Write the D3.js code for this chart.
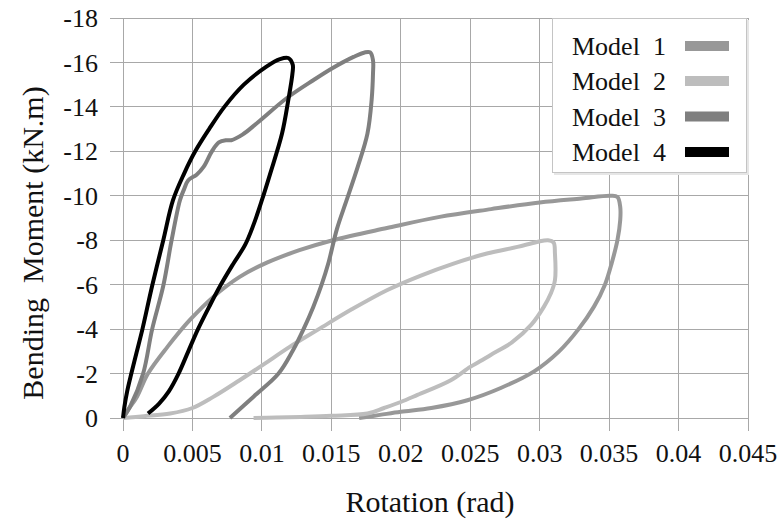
<!DOCTYPE html>
<html><head><meta charset="utf-8"><script src="https://cdn.jsdelivr.net/npm/d3@7/dist/d3.min.js"></script></head>
<body style="margin:0">
<svg id="chart" width="783" height="526"></svg>
<script>
// ---- Data ----
const xTicks = [0, 0.005, 0.01, 0.015, 0.02, 0.025, 0.03, 0.035, 0.04, 0.045];
const xTickLabels = ["0", "0.005", "0.01", "0.015", "0.02", "0.025", "0.03", "0.035", "0.04", "0.045"];
const yTicks = [0, -2, -4, -6, -8, -10, -12, -14, -16, -18];
const yTickLabels = ["0", "-2", "-4", "-6", "-8", "-10", "-12", "-14", "-16", "-18"];
const seriesNames = ["Model\u00a0\u00a01", "Model\u00a0\u00a02", "Model\u00a0\u00a03", "Model\u00a0\u00a04"];

const model1Rot = [0, 0.0004, 0.001, 0.0018, 0.0032, 0.0048, 0.0065, 0.0084, 0.0104, 0.0127, 0.0151, 0.019, 0.0228, 0.0265, 0.030, 0.0330, 0.0351, 0.0356, 0.0358, 0.0358, 0.0356, 0.0352, 0.0347, 0.0339, 0.0328, 0.0314, 0.0296, 0.0272, 0.0248, 0.0222, 0.0200, 0.0185, 0.0170];
const model1Mom = [0, -0.4, -0.95, -2, -3.2, -4.4, -5.45, -6.35, -7.0, -7.55, -8.0, -8.55, -9.05, -9.4, -9.7, -9.88, -10.0, -9.95, -9.5, -8.9, -8.0, -7.0, -6.0, -5.0, -4.0, -3.0, -2.1, -1.35, -0.8, -0.45, -0.28, -0.14, 0];

const model2Rot = [0, 0.0015, 0.0034, 0.005, 0.0065, 0.0084, 0.0101, 0.0120, 0.0141, 0.0165, 0.019, 0.0214, 0.0238, 0.0262, 0.0284, 0.0298, 0.0306, 0.0310, 0.0311, 0.0311, 0.0308, 0.0303, 0.0294, 0.0280, 0.0265, 0.0257, 0.0250, 0.0236, 0.0212, 0.0200, 0.0188, 0.0176, 0.0150, 0.0128, 0.0110, 0.0094];
const model2Mom = [0, -0.08, -0.2, -0.45, -0.95, -1.7, -2.4, -3.2, -4.0, -4.9, -5.75, -6.4, -6.95, -7.4, -7.7, -7.92, -8.0, -7.9, -7.4, -6.2, -5.6, -5.0, -4.2, -3.4, -2.85, -2.55, -2.3, -1.7, -1.04, -0.72, -0.45, -0.2, -0.1, -0.05, -0.02, 0];

const model3Rot = [0, 0.0005, 0.00145, 0.0021, 0.0029, 0.0035, 0.0041, 0.0044, 0.0047, 0.0053, 0.0058, 0.0064, 0.0069, 0.0074, 0.0078, 0.0086, 0.0097, 0.0118, 0.0137, 0.0151, 0.0166, 0.0174, 0.0178, 0.0180, 0.0180, 0.0179, 0.0176, 0.0169, 0.0161, 0.0154, 0.0148, 0.0143, 0.0137, 0.0130, 0.0122, 0.0112, 0.0094, 0.0077];
const model3Mom = [0, -0.5, -2, -4, -5.95, -8, -9.8, -10.3, -10.7, -10.95, -11.3, -12.0, -12.4, -12.5, -12.5, -12.75, -13.3, -14.4, -15.2, -15.75, -16.25, -16.45, -16.45, -16.1, -15.5, -14.3, -12.8, -11.3, -9.8, -8.5, -7.0, -6.0, -5.0, -4.0, -3.0, -2.0, -0.96, 0];

const model4Rot = [0, 0.0001, 0.0003, 0.0006, 0.001, 0.0014, 0.0021, 0.0029, 0.0036, 0.0044, 0.0052, 0.0062, 0.0073, 0.0087, 0.0103, 0.0113, 0.0119, 0.01222, 0.0122, 0.0119, 0.01145, 0.0106, 0.0100, 0.0094, 0.0088, 0.0079, 0.0070, 0.0062, 0.0054, 0.0047, 0.0040, 0.0033, 0.0026, 0.0018];
const model4Mom = [0, -0.5, -1.2, -2, -3, -4, -5.95, -8, -9.8, -11, -12, -13, -14, -15, -15.8, -16.15, -16.2, -15.9, -15.5, -14.3, -12.8, -11.0, -9.8, -8.7, -7.8, -6.9, -5.95, -5.0, -4.0, -3.0, -2.0, -1.2, -0.65, -0.2];

const colors = ["#989898", "#bdbdbd", "#7f7f7f", "#000000"];

// ---- Chart ----
const svg = d3.select("#chart");
const x = d3.scaleLinear().domain([0, 0.045]).range([123, 748]);
const y = d3.scaleLinear().domain([0, -18]).range([418, 18]);
const gridColor = "#a8a8a8";
function serif(sel) { return sel.attr("font-family", "Tinos").style("font-family", "Tinos"); }

// gridlines
svg.append("g").selectAll("line").data(yTicks).join("line")
  .attr("x1", x(0) - 13).attr("x2", x(0.045))
  .attr("y1", d => y(d)).attr("y2", d => y(d))
  .attr("stroke", gridColor).attr("stroke-width", 1).attr("shape-rendering", "crispEdges");
svg.append("g").selectAll("line").data(xTicks).join("line")
  .attr("x1", d => x(d)).attr("x2", d => x(d))
  .attr("y1", y(-18)).attr("y2", y(0) + 13)
  .attr("stroke", gridColor).attr("stroke-width", 1).attr("shape-rendering", "crispEdges");

// tick labels
svg.append("g").selectAll("text").data(xTicks).join("text")
  .attr("x", d => x(d)).attr("y", 462)
  .attr("text-anchor", "middle").attr("font-size", 26).attr("fill", "#111")
  .call(serif).text((d, i) => xTickLabels[i]);
svg.append("g").selectAll("text").data(yTicks).join("text")
  .attr("x", 98).attr("y", d => y(d)).attr("dy", "0.35em")
  .attr("text-anchor", "end").attr("font-size", 26).attr("fill", "#111")
  .call(serif).text((d, i) => yTickLabels[i]);

// axis titles
svg.append("text").attr("x", 430).attr("y", 512).attr("text-anchor", "middle")
  .attr("font-size", 30).attr("fill", "#111").call(serif).text("Rotation (rad)");
svg.append("text").attr("transform", "translate(43,243) rotate(-90)")
  .attr("text-anchor", "middle").attr("font-size", 30).attr("fill", "#111")
  .call(serif).text("Bending\u00a0\u00a0Moment (kN.m)");

// series
const series = [
  { rot: model1Rot, mom: model1Mom },
  { rot: model2Rot, mom: model2Mom },
  { rot: model3Rot, mom: model3Mom },
  { rot: model4Rot, mom: model4Mom }
];
const line = d3.line().x(d => x(d[0])).y(d => y(d[1])).curve(d3.curveCatmullRom.alpha(0.5));
series.forEach((s, i) => {
  const pts = s.rot.map((r, j) => [r, s.mom[j]]);
  svg.append("path").datum(pts).attr("d", line)
    .attr("fill", "none").attr("stroke", colors[i]).attr("stroke-width", 4)
    .attr("stroke-linejoin", "round").attr("stroke-linecap", "butt");
});

// legend
const lg = svg.append("g");
lg.append("rect").attr("x", 554).attr("y", 20).attr("width", 195).attr("height", 155).attr("fill", "#e6e6e6");
lg.append("rect").attr("x", 552.5).attr("y", 18.5).attr("width", 194).attr("height", 154)
  .attr("fill", "#fff").attr("stroke", "#c4c4c4").attr("stroke-width", 1);
const rowY = [46, 81, 116.5, 152];
seriesNames.forEach((n, i) => {
  lg.append("text").attr("x", 572).attr("y", rowY[i] + 9).attr("font-size", 26).attr("fill", "#111")
    .call(serif).text(n);
  lg.append("rect").attr("x", 685).attr("y", rowY[i] - 5).attr("width", 44).attr("height", 10).attr("fill", colors[i]);
});
</script>
</body>
</html>
